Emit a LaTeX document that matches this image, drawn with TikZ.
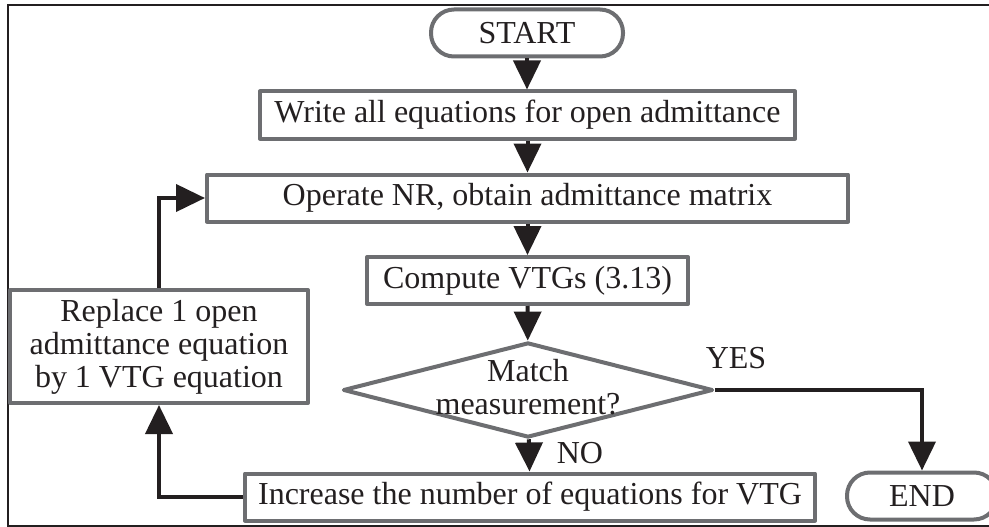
\documentclass[tikz,border=0pt]{standalone}
\usepackage{fontspec}
\setmainfont{Liberation Serif}
\usepackage{tikz}
\usepackage{xcolor}
\usetikzlibrary{arrows.meta,shapes.geometric}
\definecolor{boxgray}{HTML}{6D6E71}
\definecolor{inkblack}{HTML}{231F20}
\tikzset{
  txt/.style={font=\fontsize{32}{33}\selectfont, text=inkblack},
  procbox/.style={txt, draw=boxgray, line width=4pt, line join=round, rectangle, inner sep=0pt, minimum height=47pt},
  termbox/.style={procbox, rounded corners=23pt},
  lbl/.style={txt, inner sep=0pt},
  flow/.style={draw=inkblack, line width=4pt, -{Triangle[length=29pt,width=27pt]}},
}

\begin{document}
\begin{tikzpicture}[x=1pt, y=-1pt]
\useasboundingbox (0,0) rectangle (989,527);
\draw[inkblack, line width=1.5pt] (8,526) rectangle (1000,5);
\node[termbox, minimum width=192pt] (start) at (527,33) {START};
\node[procbox, minimum width=535pt] (write) at (527.5,115) {Write all equations for open admittance};
\node[procbox, minimum width=641pt] (nr) at (527.5,198) {Operate NR, obtain admittance matrix};
\node[procbox, minimum width=321pt] (vtg) at (527.5,280.5) {Compute VTGs (3.13)};
\node[draw=boxgray, line width=4pt, line join=round, diamond, minimum width=370pt, minimum height=95pt, inner sep=0pt] (match) at (528,390) {};
\node[lbl, align=center] (matchtxt) at (528,387) {Match\\measurement?};
\node[procbox, minimum width=570pt] (inc) at (530,497) {Increase the number of equations for VTG};
\node[termbox, minimum width=150pt] (end) at (922,496) {END};
\node[procbox, minimum width=298pt, minimum height=113pt, align=center] (repl) at (159,346.5) {Replace 1 open\\admittance equation\\by 1 VTG equation};
\node[lbl] (yes) at (736,358) {YES};
\node[lbl] (no) at (580,453) {NO};
% main column
\draw[flow] (start.south) -- (start.south |- write.north);
\draw[flow] (write) -- (nr);
\draw[flow] (nr) -- (vtg);
\draw[flow] (vtg) -- (match);
\draw[flow] (match) -- (inc);
\draw[flow] (match.east) -| (end.north);
% loop back
\draw[flow] (inc.west) -| (repl.south);
\draw[flow] (repl.north) |- (nr.west);
\end{tikzpicture}
\end{document}
